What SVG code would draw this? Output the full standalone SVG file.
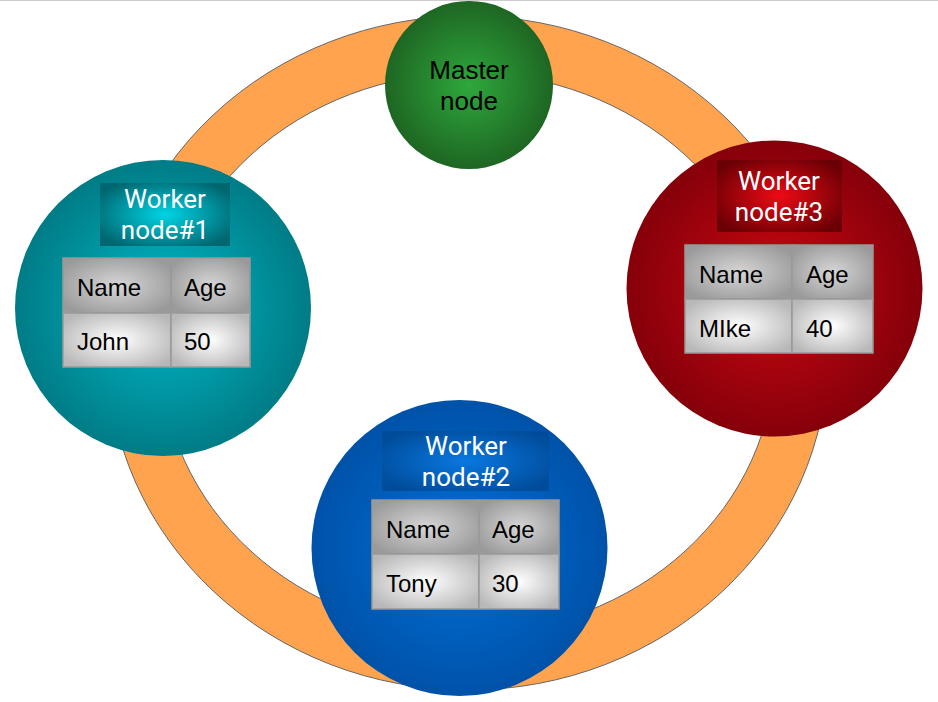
<svg xmlns="http://www.w3.org/2000/svg" width="938" height="702" viewBox="0 0 938 702">
<defs>
<radialGradient id="gGreen" cx="50%" cy="50%" r="50%"><stop offset="0" stop-color="#2ea83c"/><stop offset="1" stop-color="#1e6623"/></radialGradient>
<radialGradient id="gTeal" cx="50%" cy="50%" r="50%"><stop offset="0" stop-color="#00b8c8"/><stop offset="1" stop-color="#007c86"/></radialGradient>
<radialGradient id="gRed" cx="50%" cy="50%" r="50%"><stop offset="0" stop-color="#cc0810"/><stop offset="1" stop-color="#85000a"/></radialGradient>
<radialGradient id="gBlue" cx="50%" cy="50%" r="50%"><stop offset="0" stop-color="#0070d8"/><stop offset="1" stop-color="#0052a8"/></radialGradient>
<radialGradient id="bTeal" cx="50%" cy="50%" r="60%"><stop offset="0" stop-color="#00d4e4"/><stop offset="1" stop-color="#00666f"/></radialGradient>
<radialGradient id="bRed" cx="50%" cy="50%" r="60%"><stop offset="0" stop-color="#ee0a14"/><stop offset="1" stop-color="#6a0005"/></radialGradient>
<radialGradient id="bBlue" cx="50%" cy="50%" r="60%"><stop offset="0" stop-color="#0a78e0"/><stop offset="1" stop-color="#004c9a"/></radialGradient>
<radialGradient id="cHead" cx="50%" cy="50%" r="60%"><stop offset="0" stop-color="#d6d6d6"/><stop offset="1" stop-color="#9a9a9a"/></radialGradient>
<radialGradient id="cBody" cx="50%" cy="50%" r="60%"><stop offset="0" stop-color="#ffffff"/><stop offset="1" stop-color="#b8b8b8"/></radialGradient>
</defs>
<style>
.ring{fill:#ffa34f;stroke:#666;stroke-width:1;fill-rule:evenodd}
.lbl{font-family:Roboto,"Open Sans",sans-serif;font-size:26px;fill:#fff;text-anchor:middle}
.mst{font-family:"Liberation Sans",Arial,sans-serif;font-size:26px;fill:#000;text-anchor:middle}
.td{font-family:"Liberation Sans",Arial,sans-serif;font-size:24px;fill:#000}
.h{fill:url(#cHead);stroke:#999;stroke-width:1.5}
.b{fill:url(#cBody);stroke:#999;stroke-width:1.5}
</style>
<line x1="0" y1="0.5" x2="938" y2="0.5" stroke="#ccc" stroke-width="1"/>
<g id="connectors">
<path class="ring" d="M108,353 a360,337 0 1,0 720,0 a360,337 0 1,0 -720,0 Z M161,353 a307,280 0 1,0 614,0 a307,280 0 1,0 -614,0 Z"/>
</g>
<g id="master">
<circle cx="469" cy="85" r="84" fill="url(#gGreen)"/>
<text class="mst" x="469" y="79">Master</text>
<text class="mst" x="469" y="110">node</text>
</g>
<g id="worker1">
<circle cx="163" cy="308" r="148" fill="url(#gTeal)"/>
<rect x="100" y="183" width="130" height="63" fill="url(#bTeal)"/>
<text class="lbl" x="165" y="208">Worker</text>
<text class="lbl" x="165" y="239">node#1</text>
<rect class="h" x="63" y="258" width="108" height="55"/>
<rect class="h" x="171" y="258" width="79" height="55"/>
<rect class="b" x="63" y="313" width="108" height="54"/>
<rect class="b" x="171" y="313" width="79" height="54"/>
<text class="td" x="77" y="296">Name</text>
<text class="td" x="184" y="296">Age</text>
<text class="td" x="77" y="350">John</text>
<text class="td" x="184" y="350">50</text>
</g>
<g id="worker3">
<circle cx="774.5" cy="288.5" r="148" fill="url(#gRed)"/>
<rect x="717" y="160" width="125" height="72" fill="url(#bRed)"/>
<text class="lbl" x="779" y="190">Worker</text>
<text class="lbl" x="779" y="221">node#3</text>
<rect class="h" x="685" y="245" width="107" height="54"/>
<rect class="h" x="792" y="245" width="81" height="54"/>
<rect class="b" x="685" y="299" width="107" height="54"/>
<rect class="b" x="792" y="299" width="81" height="54"/>
<text class="td" x="699" y="283">Name</text>
<text class="td" x="806" y="283">Age</text>
<text class="td" x="699" y="337">MIke</text>
<text class="td" x="806" y="337">40</text>
</g>
<g id="worker2">
<circle cx="459.5" cy="548" r="148" fill="url(#gBlue)"/>
<rect x="382" y="431" width="167" height="60" fill="url(#bBlue)"/>
<text class="lbl" x="466" y="455">Worker</text>
<text class="lbl" x="466" y="486">node#2</text>
<rect class="h" x="372" y="500" width="107" height="54"/>
<rect class="h" x="479" y="500" width="80" height="54"/>
<rect class="b" x="372" y="554" width="107" height="55"/>
<rect class="b" x="479" y="554" width="80" height="55"/>
<text class="td" x="386" y="538">Name</text>
<text class="td" x="492" y="538">Age</text>
<text class="td" x="386" y="592">Tony</text>
<text class="td" x="492" y="592">30</text>
</g>
</svg>
